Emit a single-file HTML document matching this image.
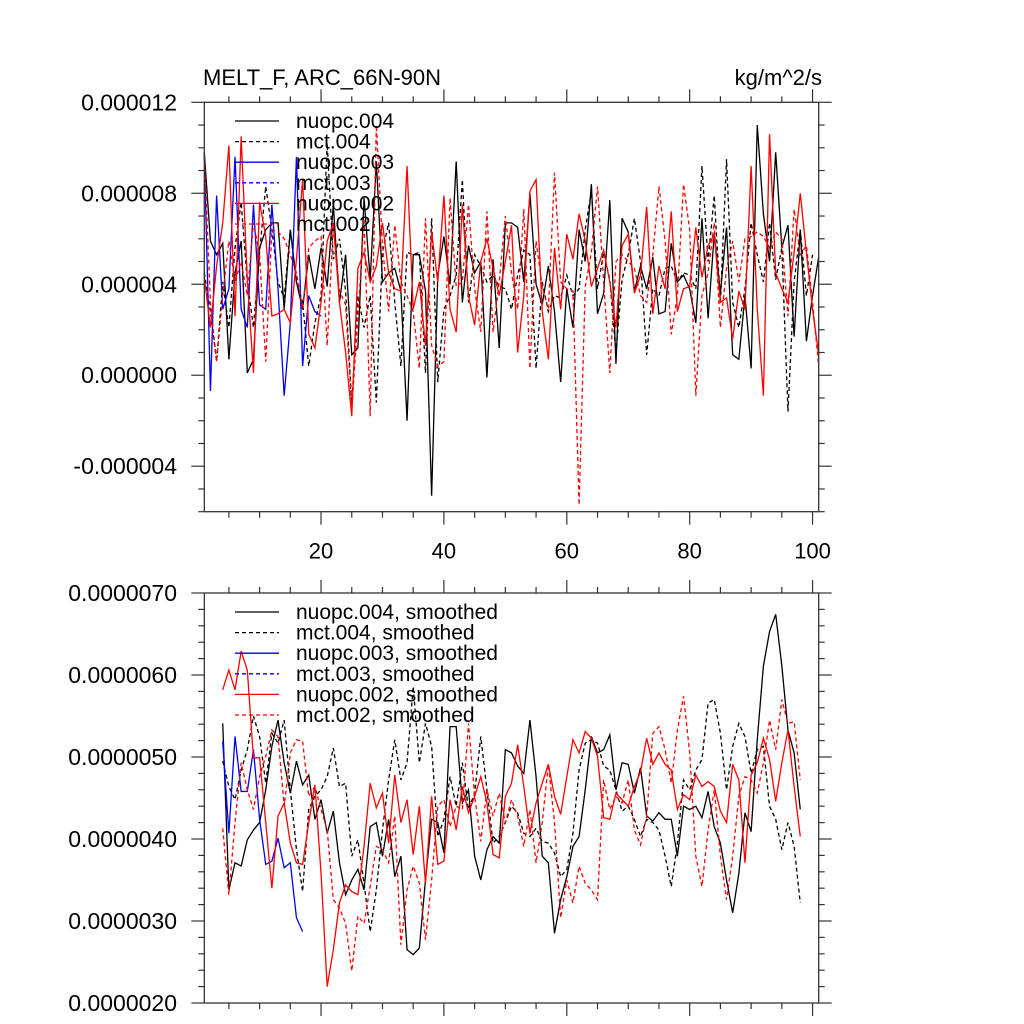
<!DOCTYPE html>
<html><head><meta charset="utf-8"><style>
html,body{margin:0;padding:0;background:#fff;}
svg{display:block;font-family:"Liberation Sans",sans-serif;}
</style></head><body>
<svg id="chart" width="1024" height="1024" viewBox="0 0 1024 1024" xmlns="http://www.w3.org/2000/svg">
<rect width="1024" height="1024" fill="#fff"/>
<text x="203" y="85" font-size="22">MELT_F, ARC_66N-90N</text>
<text x="822" y="85" font-size="22" text-anchor="end">kg/m^2/s</text>
<g id="top"></g>
<g id="bot"></g>
</svg>
<script>
// ---- data (values in units of 1e-6 kg/m^2/s) ----
const xTicks = [20, 40, 60, 80, 100];
const topYTicks = [-4, 0, 4, 8, 12];
const topYLabels = ["-0.000004", "0.000000", "0.000004", "0.000008", "0.000012"];
const botYTicks = [2, 3, 4, 5, 6, 7];
const botYLabels = ["0.0000020", "0.0000030", "0.0000040", "0.0000050", "0.0000060", "0.0000070"];
const topNames = ["nuopc.004", "mct.004", "nuopc.003", "mct.003", "nuopc.002", "mct.002"];
const botNames = ["nuopc.004, smoothed", "mct.004, smoothed", "nuopc.003, smoothed", "mct.003, smoothed", "nuopc.002, smoothed", "mct.002, smoothed"];

const topNuopc004 = [9.8,5.9,5.3,5.8,0.7,4.5,5.9,0.1,0.7,5.6, 6.4,6.7,6.7,2.9,6.4,4.1,2.9,5.3,3.8,5.6, 3.9,7.5,3.2,5.3,0.9,1.2,7.8,4.2,9.4,4.1, 4.5,4.7,3.7,-2.0,5.3,5.3,3.7,-5.3,4.4,6.1, 4.0,9.4,3.2,5.7,4.5,5.0,-0.1,5.1,1.2,6.7, 6.7,6.5,4.1,8.0,4.0,3.1,4.8,2.8,-0.3,3.8, 2.1,6.4,5.0,8.4,2.7,3.6,7.7,0.5,6.9,6.3, 3.7,4.8,3.8,5.2,2.7,2.8,5.8,4.1,4.4,3.8, 2.3,6.9,2.5,6.2,3.6,6.5,0.9,0.7,3.5,0.3, 11.0,7.1,5.0,9.8,5.6,6.6,1.7,6.4,1.5,3.5,5.2];
const topMct004 = [4.5,2.8,0.6,4.1,2.1,5.6,7.6,4.1,2.1,5.4, 8.3,6.4,4.1,3.4,6.4,4.1,3.2,0.4,2.3,3.5, 10.2,5.1,6.0,3.7,-1.3,3.5,2.1,3.5,-1.2,5.4, 6.7,3.2,0.4,5.4,5.3,5.4,0.1,6.9,-0.3,2.9, 3.5,4.4,8.6,3.2,5.3,4.8,4.1,4.4,3.9,3.8, 2.9,4.4,5.5,5.3,0.3,4.1,2.8,3.5,3.4,4.4, 3.5,3.8,6.4,8.1,3.8,5.4,4.2,1.0,4.2,5.3, 6.9,5.0,0.9,3.8,3.5,4.7,4.8,4.1,4.5,4.4, 3.8,9.2,5.0,7.9,3.2,9.5,3.2,2.1,3.8,6.7, 5.3,4.1,6.7,4.2,5.6,-1.6,4.1,6.4,3.5,5.3];
const topNuopc003 = [9.8,-0.7,7.9,2.9,3.8,9.6,2.9,2.1,7.5,3.1, 2.9,7.5,3.8,-0.9,2.3,9.6,0.4,3.5,2.8,2.6];
const topNuopc002 = [4.3,2.1,4.8,6.7,10.1,2.6,10.5,4.2,0.1,7.6, 6.1,2.6,2.7,2.9,2.3,5.1,8.6,1.8,1.2,3.2, 5.9,6.7,3.2,1.0,-1.8,4.7,5.4,4.1,4.8,6.7, 4.5,3.8,3.7,9.2,2.9,4.1,1.3,6.3,4.1,7.9, 2.9,1.9,7.5,3.5,2.2,5.0,6.0,4.7,3.5,5.0, 6.6,1.0,3.5,8.1,8.6,2.8,0.7,5.6,2.9,6.2, 5.1,7.1,5.9,3.9,4.7,5.5,4.1,2.1,5.7,6.2, 3.6,4.4,7.4,2.7,4.8,3.8,7.2,2.8,3.8,3.9, 6.5,4.3,5.7,6.2,3.2,3.4,1.6,3.7,2.9,9.2, 2.9,-0.9,10.6,4.5,3.8,3.2,5.4,8.0,5.4,2.9,0.9];
const topMct002 = [9.7,3.2,0.6,3.5,5.9,4.1,5.0,3.5,6.7,5.3, 0.6,6.4,6.3,6.0,5.3,4.5,2.9,5.6,5.9,6.1, 1.3,6.6,3.7,3.1,-1.5,2.5,6.9,-1.8,11.0,5.7, 2.8,6.6,4.1,3.5,2.8,0.3,6.9,1.3,0.4,0.6, 7.8,3.9,4.1,7.5,3.8,1.9,7.2,1.9,4.1,7.0, 4.5,2.9,7.3,0.3,5.9,3.9,2.9,8.9,4.1,3.8, 3.7,-5.7,3.9,5.4,8.3,4.1,0.1,5.0,5.3,5.0, 4.7,3.5,3.2,5.3,8.3,5.9,1.8,3.5,8.4,6.4, -0.9,3.5,4.5,6.7,2.1,4.7,5.9,4.1,6.0,6.1, 6.3,6.1,5.6,6.3,6.0,2.6,7.3,5.3,5.7,3.2,0.4];

const botNuopc004 = [5.41,3.38,3.71,3.67,3.99,4.11,4.2,4.6,5.13,5.45, 4.93,4.56,4.95,4.66,4.78,4.24,4.48,4.07,4.34,3.71, 3.32,3.5,3.63,3.38,4.15,4.2,3.79,4.24,3.54,3.79, 2.65,2.59,2.67,3.5,4.24,4.2,3.83,5.37,5.37,4.44, 4.6,3.79,3.5,3.87,4.03,3.95,5.09, 5.05,4.89,4.8,5.45,4.76,3.79,3.71,2.85,3.26,3.54, 3.91,4.03,4.6,5.25,5.05,5.09,5.27,4.6,4.93,4.91, 4.56,4.87,4.28,4.22,4.32,4.24,4.24,3.79,4.4,4.36, 4.4,4.26,4.58,4.15,3.95,3.5,3.1,3.58,4.32,4.09, 5.21,6.11,6.53,6.74,6.11,5.33,5.05,4.36];
const botMct004 = [4.95,4.64,4.48,4.84,5.09,5.5,5.25,4.68,5.29,5.17, 5.45,4.6,3.87,3.36,4.36,4.52,4.6,4.76,5.11,4.64, 4.68,3.79,3.99,3.46,2.87,3.38,4.11,4.72,5.21,4.72, 4.93,5.86,4.93,5.41,5.13,4.03,4.24,4.76,4.4,4.93, 4.36,4.56,5.25,4.6,3.95,4.03,4.2, 4.4,4.32,4.07,4.03,4.13,3.97,3.95,3.83,3.54,3.63, 4.07,4.84,5.17,5.21,5.17,4.89,4.84,4.6,4.34,4.4, 4.24,4.03,4.24,4.2,4.11,3.79,3.42,3.95,4.72,4.6, 4.84,4.97,5.66,5.7,5.29,4.6,5.13,5.41,5.25,4.8, 5.09,5.13,4.4,4.24,3.87,4.2,3.91,3.22];
const botNuopc003 = [5.19,4.07,5.25,4.58,4.58,5.09,4.24,3.69,3.73,4.01,3.65,3.71,3.04,2.87];
const botNuopc002 = [5.82,6.06,5.82,6.29,6.06,4.99,4.99,4.2,3.4,4.28, 4.44,3.95,3.71,3.69,4.2,4.66,3.58,2.2,2.65,3.22, 3.44,3.36,3.32,3.91,4.68,4.38,4.56,3.95,4.78,4.2, 4.48,3.81,4.4,3.46,4.52,3.69,3.73,4.48,4.11,4.64, 4.32,4.52,4.76,4.44,3.81,3.77,4.52, 4.68,5.15,4.64,4.07,4.44,4.68,4.91,4.52,4.3,4.76, 5.21,5.05,5.31,5.23,5.01,4.26,4.24,4.56,4.48,4.4, 4.64,4.82,5.23,4.91,5.05,4.91,4.84,4.36,4.54,4.48, 4.78,4.64,4.7,4.64,4.34,4.2,4.91,4.72,3.71,4.78, 4.93,5.23,4.97,4.46,4.93,5.33,4.64,4.03];
const botMct002 = [4.13,3.32,4.2,4.93,4.6,4.36,4.76,5.01,5.33,5.25, 4.4,5.05,5.21,5.19,4.52,4.64,4.36,4.11,3.26,3.16, 2.97,2.39,3.06,2.97,3.42,3.91,3.87,3.71,4.28,2.71, 3.38,3.67,3.46,2.77,3.5,4.4,4.48,4.15,4.4,4.36, 5.41,4.52,3.97,4.6,4.28,4.56,4.2, 4.48,4.28,3.91,4.36,3.71,4.2,4.91,4.2,3.04,3.5, 3.22,3.67,3.46,3.38,3.26,4.72,4.36,4.52,4.44,4.72, 4.11,3.93,4.28,5.29,5.37,5.09,4.68,5.33,5.74,5.05, 3.79,3.42,4.11,4.6,3.79,3.26,3.79,4.52,4.76,4.72, 4.56,4.93,5.45,5.09,5.7,5.41,5.43,4.72];

const NS = "http://www.w3.org/2000/svg";
function mk(tag, attrs, parent) {
  const e = document.createElementNS(NS, tag);
  for (const k in attrs) e.setAttribute(k, attrs[k]);
  parent.appendChild(e);
  return e;
}
const L = 204.3, R = 818.7;
function xScale(x) { return L + (x - 1) * (R - L) / 100; }

function panel(g, top, bottom, yMin, yMax, yTicks, yLabels, minorStep, showXLabels, series, names, legY, legTextX) {
  const ys = v => bottom - (v - yMin) * (bottom - top) / (yMax - yMin);
  series.forEach(s => {
    const pts = s.data.map((v, i) => xScale(s.start + i).toFixed(2) + "," + ys(v).toFixed(2)).join(" ");
    const pl = mk("polyline", {points: pts, fill: "none", stroke: s.color, "stroke-width": 1.3, "stroke-dasharray": s.dash ? "4,3" : "none"}, g);
    
    
  });
  const fr = mk("rect", {x: L, y: top, width: R - L, height: bottom - top, fill: "none", stroke: "#333", "stroke-width": 1.3}, g);
  
  
  for (let x = 5; x <= 100; x += 5) {
    const px = xScale(x);
    const len = x % 20 === 0 ? 13 : 6;
    const t1 = mk("line", {x1: px, x2: px, y1: bottom, y2: bottom + len, stroke: "#333", "stroke-width": 1.2}, g);
    
    
    const t2 = mk("line", {x1: px, x2: px, y1: top, y2: top - len, stroke: "#333", "stroke-width": 1.2}, g);
    
    
  }
  if (showXLabels) {
    xTicks.forEach(x => {
      const t = mk("text", {x: xScale(x), y: bottom + 47, "font-size": 22, "text-anchor": "middle"}, g);
      t.textContent = x;
      
      
    });
  }
  for (let v = yMin; v <= yMax + 1e-9; v += minorStep) {
    const py = ys(v);
    const major = yTicks.some(t => Math.abs(t - v) < 1e-6);
    const len = major ? 13 : 6;
    const a = mk("line", {x1: L, x2: L - len, y1: py, y2: py, stroke: "#333", "stroke-width": 1.2}, g);
    
    
    const b = mk("line", {x1: R, x2: R + len, y1: py, y2: py, stroke: "#333", "stroke-width": 1.2}, g);
    
    
  }
  yTicks.forEach((v, i) => {
    const t = mk("text", {x: 177, y: ys(v) + 8, "font-size": 23, "text-anchor": "end"}, g);
    t.textContent = yLabels[i];
    
    
  });
  const legColors = ["#000", "#000", "#00f", "#00f", "#f00", "#f00"];
  names.forEach((n, i) => {
    const y = legY + i * 20.6;
    const ln = mk("line", {x1: 235, x2: 279, y1: y, y2: y, stroke: legColors[i], "stroke-width": 1.3, "stroke-dasharray": i % 2 ? "4,3" : "none"}, g);
    
    
    const t = mk("text", {x: legTextX, y: y + 7, "font-size": 21}, g);
    t.textContent = n;
    
    
  });
}

const topSeries = [
  {name: "nuopc004-line", data: topNuopc004, start: 1, color: "#000", dash: false},
  {name: "mct004-line", data: topMct004, start: 1, color: "#000", dash: true},
  {name: "nuopc003-line", data: topNuopc003, start: 1, color: "#00f", dash: false},
  {name: "nuopc002-line", data: topNuopc002, start: 1, color: "#f00", dash: false},
  {name: "mct002-line", data: topMct002, start: 1, color: "#f00", dash: true}
];
const botSeries = [
  {name: "nuopc004-smoothed-line", data: botNuopc004, start: 4, color: "#000", dash: false},
  {name: "mct004-smoothed-line", data: botMct004, start: 4, color: "#000", dash: true},
  {name: "nuopc003-smoothed-line", data: botNuopc003, start: 4, color: "#00f", dash: false},
  {name: "nuopc002-smoothed-line", data: botNuopc002, start: 4, color: "#f00", dash: false},
  {name: "mct002-smoothed-line", data: botMct002, start: 4, color: "#f00", dash: true}
];
panel(document.getElementById("top"), 102.3, 511.7, -6, 12, topYTicks, topYLabels, 1, true, topSeries, topNames, 121, 296);
panel(document.getElementById("bot"), 593, 1003, 2, 7, botYTicks, botYLabels, 0.2, false, botSeries, botNames, 612, 296);
</script>
</body></html>
